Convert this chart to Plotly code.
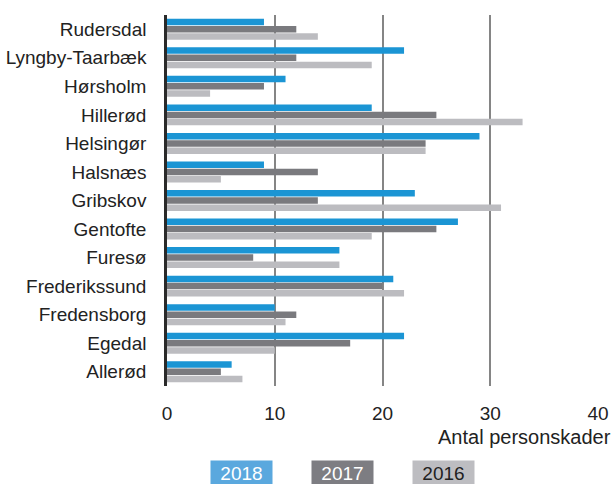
import plotly.graph_objects as go

categories = ["Rudersdal", "Lyngby-Taarbæk", "Hørsholm", "Hillerød", "Helsingør", "Halsnæs",
              "Gribskov", "Gentofte", "Furesø", "Frederikssund", "Fredensborg", "Egedal", "Allerød"]
v2018 = [9, 22, 11, 19, 29, 9, 23, 27, 16, 21, 10, 22, 6]
v2017 = [12, 12, 9, 25, 24, 14, 14, 25, 8, 20, 12, 17, 5]
v2016 = [14, 19, 4, 33, 24, 5, 31, 19, 16, 22, 11, 10, 7]
series_names = ["2018", "2017", "2016"]
x_ticks = [0, 10, 20, 30, 40]
x_title = "Antal personskader"

bar_colors = ["#1b95d4", "#7a7a7e", "#bcbcc0"]
legend_colors = ["#5aa8de", "#7d7d82", "#bdbdc1"]
legend_text = ["white", "white", "#222222"]

FONT = "Liberation Sans, Arial, Helvetica, sans-serif"

fig = go.Figure()
for name, vals, col in zip(series_names, [v2018, v2017, v2016], bar_colors):
    fig.add_trace(go.Bar(
        y=categories, x=vals, name=name, orientation="h",
        marker=dict(color=col, line=dict(width=0)),
        showlegend=False,
    ))

# plot area pixel geometry
L, R, T, B = 167, 17, 15, 98
W, H = 615, 484
pw = W - L - R
ph = H - T - B

def px_x(px):
    return (px - L) / pw

def px_y(py):
    return (H - B - py) / ph

annotations = []
annotations.append(dict(
    text=x_title, x=px_x(613), y=px_y(437), xref="paper", yref="paper",
    xanchor="right", yanchor="middle", showarrow=False,
    font=dict(family=FONT, size=20, color="#222222"),
))
centers = [241.5, 342, 443.5]
for name, cx, bg, tc in zip(series_names, centers, legend_colors, legend_text):
    annotations.append(dict(
        text=name, x=px_x(cx), y=px_y(473), xref="paper", yref="paper",
        xanchor="center", yanchor="middle", showarrow=False,
        font=dict(family=FONT, size=19, color=tc),
        bgcolor=bg, width=59, height=22, borderpad=1,
    ))

fig.update_layout(
    template="none",
    width=W, height=H, autosize=False,
    margin=dict(l=L, r=R, t=T, b=B, pad=0, autoexpand=False),
    paper_bgcolor="white", plot_bgcolor="white",
    barmode="group", bargap=0.24, bargroupgap=0.1,
    font=dict(family=FONT, size=19, color="#222222"),
    xaxis=dict(
        range=[0, 40], tickvals=x_ticks, ticktext=[str(t) for t in x_ticks],
        showgrid=True, gridcolor="#858585", gridwidth=1.5,
        zeroline=False, showline=False, automargin=False,
        ticks="outside", ticklen=10, tickcolor="rgba(0,0,0,0)",
        tickfont=dict(family=FONT, size=19, color="#222222"),
        fixedrange=True,
    ),
    yaxis=dict(
        range=[12.5, -0.5], categoryorder="array", categoryarray=categories,
        showgrid=False, zeroline=False, automargin=False,
        showline=True, linecolor="#2a2a2a", linewidth=2.5,
        ticks="outside", ticklen=14, tickcolor="rgba(0,0,0,0)",
        tickfont=dict(family=FONT, size=19, color="#222222"),
        fixedrange=True,
    ),
    annotations=annotations,
)

fig.write_html(
    "out.html",
    config={"displayModeBar": False, "responsive": False},
    post_script="document.body.style.margin='0';document.body.style.overflow='hidden';",
)
